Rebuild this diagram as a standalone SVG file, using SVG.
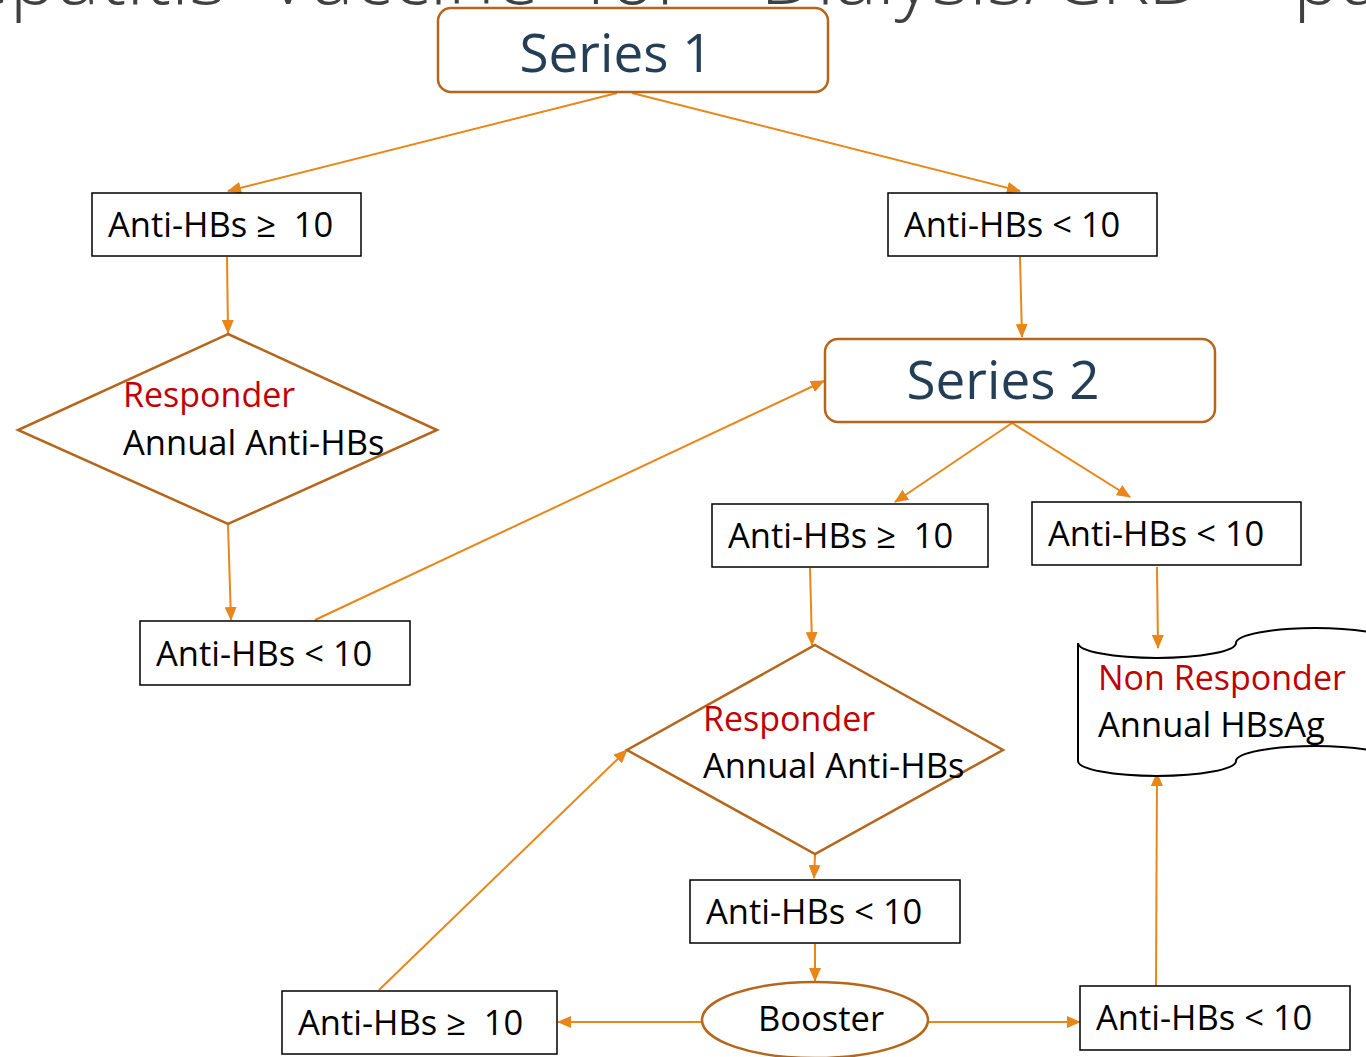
<svg xmlns="http://www.w3.org/2000/svg" width="1366" height="1057" viewBox="0 0 1366 1057">
<style>
  text { font-family: "Open Sans", "Liberation Sans", sans-serif; }
  .box { fill: #fff; stroke: #000; stroke-width: 1.5; }
  .shape { fill: #fff; stroke: #B5661B; stroke-width: 2.5; }
  .series { font-size: 53px; fill: #243F55; text-anchor: middle; }
  .lbl { font-size: 34.5px; fill: #000; }
  .red { font-size: 34px; fill: #C00000; }
  .conn line { stroke: #E8861A; stroke-width: 2; fill: none; marker-end: url(#arr); }
  .title { font-size: 80px; fill: #404040; font-weight: 300; }
</style>
<defs>
  <marker id="arr" markerUnits="userSpaceOnUse" markerWidth="14" markerHeight="12" refX="13" refY="6" orient="auto">
    <path d="M0,0 L14,6 L0,12 Z" fill="#E8861A"/>
  </marker>
</defs>
<rect width="1366" height="1057" fill="#fff"/>
<text class="title" y="4"><tspan x="-92">Hepatitis</tspan><tspan x="265">Vaccine</tspan><tspan x="585">for</tspan><tspan x="760">Dialysis/CKD</tspan><tspan x="1293">patients</tspan></text>

<g class="conn">
  <line x1="617" y1="93" x2="228" y2="191"/>
  <line x1="632" y1="93" x2="1020" y2="191"/>
  <line x1="227" y1="257" x2="228" y2="333"/>
  <line x1="228" y1="525" x2="231" y2="620"/>
  <line x1="315" y1="620" x2="824" y2="381"/>
  <line x1="1020" y1="257" x2="1022" y2="337"/>
  <line x1="1012" y1="423" x2="895" y2="502"/>
  <line x1="1012" y1="423" x2="1130" y2="497"/>
  <line x1="810" y1="568" x2="812" y2="645"/>
  <line x1="1157" y1="567" x2="1158" y2="648"/>
  <line x1="815" y1="855" x2="814" y2="878"/>
  <line x1="815" y1="944" x2="815" y2="981"/>
  <line x1="702" y1="1022" x2="558" y2="1022"/>
  <line x1="928" y1="1022" x2="1080" y2="1022"/>
  <line x1="379" y1="990" x2="627" y2="750"/>
  <line x1="1156" y1="986" x2="1157" y2="773"/>
</g>

<g id="series1">
  <rect class="shape" x="438" y="8" width="390" height="84" rx="13"/>
  <text class="series" x="616" y="72">Series 1</text>
</g>
<g id="a1-ge10">
  <rect class="box" x="92" y="193" width="269" height="63"/>
  <text class="lbl" x="108" y="237">Anti-HBs ≥&#160; 10</text>
</g>
<g id="a1-lt10">
  <rect class="box" x="888" y="193" width="269" height="63"/>
  <text class="lbl" x="904" y="237">Anti-HBs &lt; 10</text>
</g>
<g id="responder1">
  <polygon class="shape" points="228,334 437,430 228,524 18,430"/>
  <text class="red" x="123" y="407">Responder</text>
  <text class="lbl" x="123" y="455">Annual Anti-HBs</text>
</g>
<g id="r1-lt10">
  <rect class="box" x="140" y="621" width="270" height="64"/>
  <text class="lbl" x="156" y="666">Anti-HBs &lt; 10</text>
</g>
<g id="series2">
  <rect class="shape" x="825" y="339" width="390" height="83" rx="13"/>
  <text class="series" x="1003" y="399">Series 2</text>
</g>
<g id="a2-ge10">
  <rect class="box" x="712" y="504" width="276" height="63"/>
  <text class="lbl" x="728" y="548">Anti-HBs ≥&#160; 10</text>
</g>
<g id="a2-lt10">
  <rect class="box" x="1032" y="502" width="269" height="63"/>
  <text class="lbl" x="1048" y="546">Anti-HBs &lt; 10</text>
</g>
<g id="responder2">
  <polygon class="shape" points="815,645 1003,750 815,854 627,750"/>
  <text class="red" x="703" y="731">Responder</text>
  <text class="lbl" x="703" y="778">Annual Anti-HBs</text>
</g>
<g id="nonresponder">
  <path d="M1078,643 A79,15 0 0 0 1236,643 A79,15 0 0 1 1394,643 L1394,761 A79,15 0 0 0 1236,761 A79,15 0 0 1 1078,761 Z" fill="#fff" stroke="#000" stroke-width="2"/>
  <text class="red" x="1098" y="690">Non Responder</text>
  <text class="lbl" x="1098" y="737">Annual HBsAg</text>
</g>
<g id="r2-lt10">
  <rect class="box" x="690" y="880" width="270" height="63"/>
  <text class="lbl" x="706" y="924">Anti-HBs &lt; 10</text>
</g>
<g id="booster">
  <ellipse class="shape" cx="815" cy="1020" rx="113" ry="38"/>
  <text class="lbl" x="821" y="1031" text-anchor="middle">Booster</text>
</g>
<g id="b-ge10">
  <rect class="box" x="282" y="991" width="275" height="63"/>
  <text class="lbl" x="298" y="1035">Anti-HBs ≥&#160; 10</text>
</g>
<g id="b-lt10">
  <rect class="box" x="1080" y="986" width="270" height="64"/>
  <text class="lbl" x="1096" y="1030">Anti-HBs &lt; 10</text>
</g>
</svg>
